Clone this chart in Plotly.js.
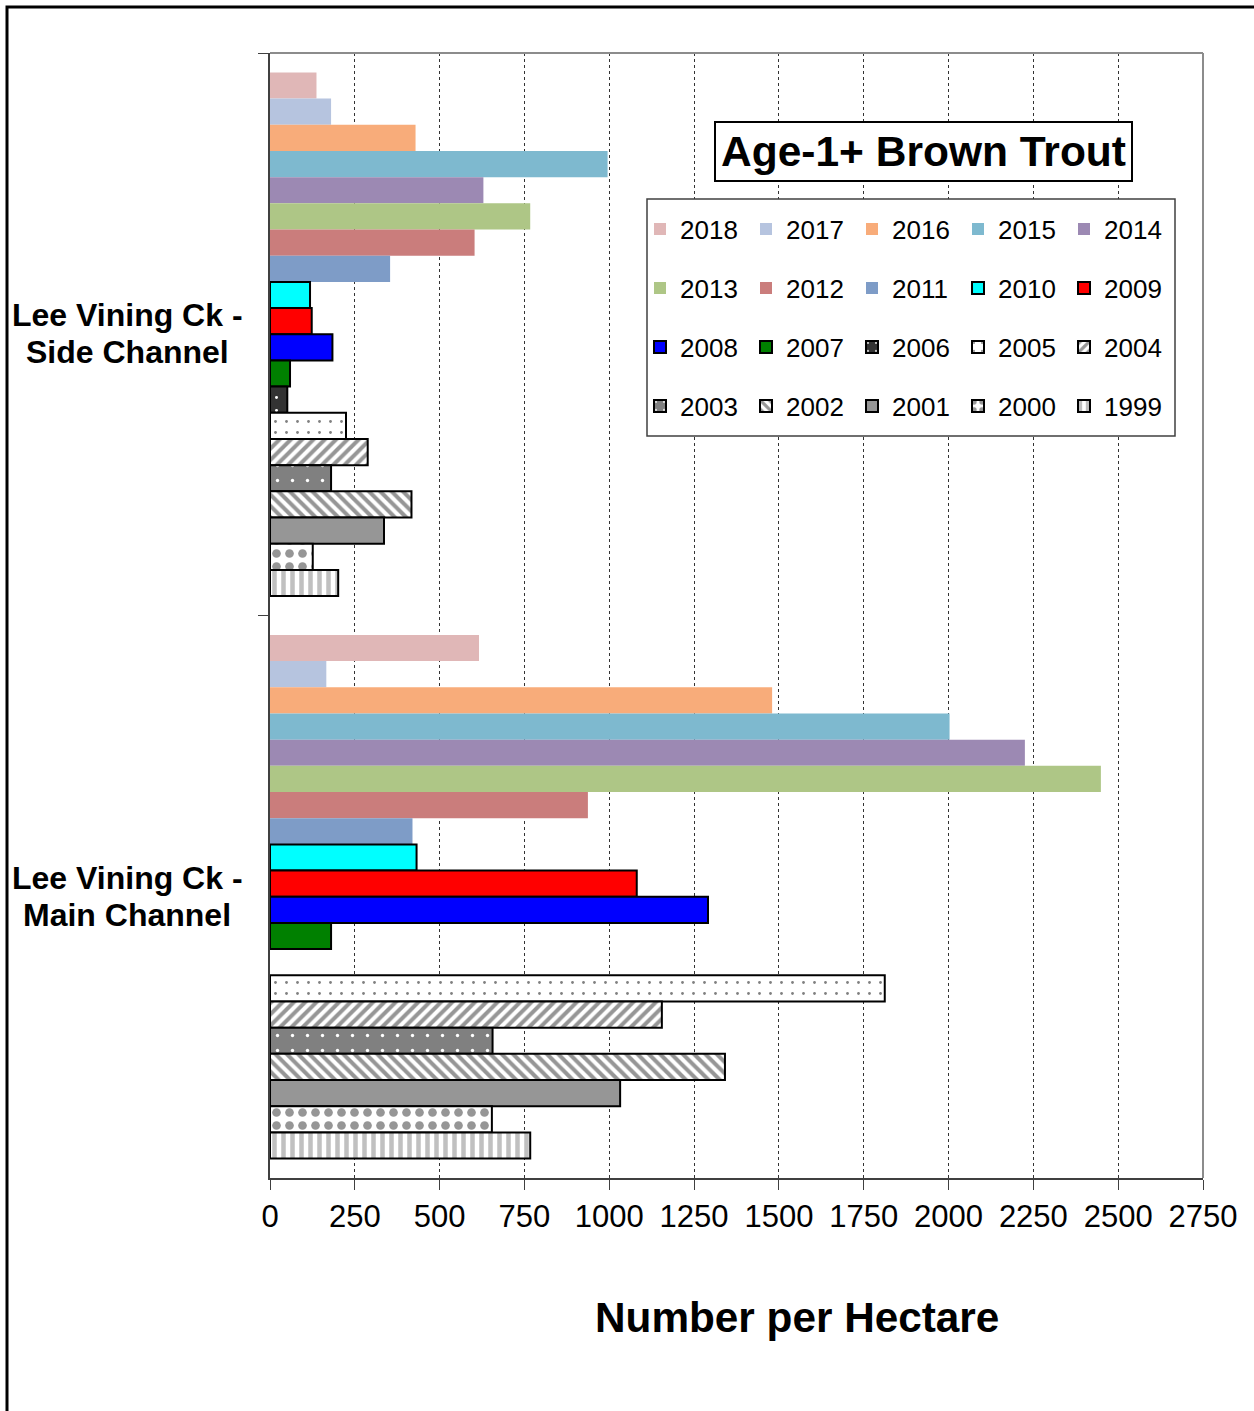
<!DOCTYPE html>
<html>
<head>
<meta charset="utf-8">
<script src="https://cdn.plot.ly/plotly-3.0.1.min.js"></script>
<style>html,body{margin:0;padding:0;background:#fff;}#chart{width:1254px;height:1411px;}</style>
</head>
<body>
<div id="chart"></div>
<script>
// ---- Data ----
const categories = ["Lee Vining Ck - Side Channel", "Lee Vining Ck - Main Channel"];
const categoryLabelLines = [["Lee Vining Ck -", "Side Channel"], ["Lee Vining Ck -", "Main Channel"]];
const years = ["2018","2017","2016","2015","2014","2013","2012","2011","2010","2009",
               "2008","2007","2006","2005","2004","2003","2002","2001","2000","1999"];
// values per year: [Side Channel, Main Channel]
const sideChannel = [137, 180, 429, 995, 629, 767, 603, 354, 118, 123,
                     184, 59, 51, 224, 288, 180, 417, 336, 126, 201];
const mainChannel = [616, 166, 1480, 2003, 2225, 2449, 937, 420, 432, 1081,
                     1291, 180, null, 1812, 1155, 656, 1341, 1032, 654, 767];
const xTickVals = [0,250,500,750,1000,1250,1500,1750,2000,2250,2500,2750];
const chartTitle = "Age-1+ Brown Trout";
const xTitle = "Number per Hectare";

// ---- Styles ----
const styles = {
  "2018": {color:"#e0b7b7"}, "2017": {color:"#b6c4df"}, "2016": {color:"#f8ac7a"},
  "2015": {color:"#7eb9cf"}, "2014": {color:"#9c89b3"}, "2013": {color:"#aec686"},
  "2012": {color:"#ca7d7c"}, "2011": {color:"#7e9cc7"},
  "2010": {color:"#00ffff", border:true}, "2009": {color:"#ff0000", border:true},
  "2008": {color:"#0000ff", border:true}, "2007": {color:"#008000", border:true},
  "2006": {color:"#333333", border:true, pattern:{shape:".", fgcolor:"#ffffff", bgcolor:"#333333", size:13, solidity:0.04, fillmode:"replace"}},
  "2005": {color:"#ffffff", border:true, pattern:{shape:".", fgcolor:"#808080", bgcolor:"#ffffff", size:11, solidity:0.05, fillmode:"replace"}},
  "2004": {color:"#ffffff", border:true, pattern:{shape:"/", fgcolor:"#969696", bgcolor:"#ffffff", size:8, solidity:0.5, fillmode:"replace"}},
  "2003": {color:"#808080", border:true, pattern:{shape:".", fgcolor:"#ffffff", bgcolor:"#808080", size:15, solidity:0.04, fillmode:"replace"}},
  "2002": {color:"#ffffff", border:true, pattern:{shape:"\\", fgcolor:"#969696", bgcolor:"#ffffff", size:8, solidity:0.5, fillmode:"replace"}},
  "2001": {color:"#969696", border:true},
  "2000": {color:"#ffffff", border:true, pattern:{shape:".", fgcolor:"#969696", bgcolor:"#ffffff", size:13, solidity:0.35, fillmode:"replace"}},
  "1999": {color:"#ffffff", border:true, pattern:{shape:"|", fgcolor:"#c0c0c0", bgcolor:"#ffffff", size:9, solidity:0.5, fillmode:"replace"}}
};

const W = 1254, H = 1411;
const M = {l:270, r:51, t:53, b:233};
const PW = W - M.l - M.r, PH = H - M.t - M.b;
const px = x => (x - M.l) / PW;
const py = y => 1 - (y - M.t) / PH;

const legendNames = ["legend","legend2","legend3","legend4"];
const traces = years.map((yr, i) => {
  const s = styles[yr];
  const marker = {color: s.color, line: {color: s.border ? "#000000" : "rgba(0,0,0,0)", width: s.border ? 2 : 0}};
  if (s.pattern) marker.pattern = s.pattern;
  return {
    type: "bar", orientation: "h", name: yr,
    y: categories, x: [sideChannel[i], mainChannel[i]],
    marker: marker,
    legend: legendNames[Math.floor(i / 5)],
    hoverinfo: "skip"
  };
});

const FONT = "Liberation Sans, Arial, Helvetica, sans-serif";
const rowY = [229, 288, 347, 406];
const legendBase = {
  orientation: "h", xanchor: "left", yanchor: "middle",
  bgcolor: "rgba(0,0,0,0)", borderwidth: 0,
  font: {family: FONT, size: 26, color: "#000"},
  entrywidth: 61, entrywidthmode: "pixels", itemwidth: 30,
  traceorder: "normal", tracegroupgap: 0
};
const legends = {};
legendNames.forEach((n, k) => {
  legends[n] = Object.assign({}, legendBase, {x: px(640), y: py(rowY[k])});
});

const annotations = [];
categories.forEach((c, i) => {
  categoryLabelLines[i].forEach((line, j) => {
    annotations.push({
      xref: "paper", yref: "y", x: px(127), y: c, text: "<b>" + line + "</b>",
      yshift: j === 0 ? 19 : -18,
      showarrow: false, xanchor: "center", yanchor: "middle", align: "center",
      font: {family: FONT, size: 32, color: "#000"}
    });
  });
});
annotations.push({
  xref: "paper", yref: "paper", x: px(923), y: py(151.5), text: "<b>" + chartTitle + "</b>",
  showarrow: false, xanchor: "center", yanchor: "middle",
  font: {family: FONT, size: 42.5, color: "#000"},
  bordercolor: "#000", borderwidth: 2, borderpad: 5, bgcolor: "#ffffff"
});
annotations.push({
  xref: "paper", yref: "paper", x: px(797), y: py(1317), text: "<b>" + xTitle + "</b>",
  showarrow: false, xanchor: "center", yanchor: "middle",
  font: {family: FONT, size: 42.3, color: "#000"}
});

const layout = Object.assign({
  width: W, height: H,
  margin: M,
  paper_bgcolor: "#ffffff", plot_bgcolor: "#ffffff",
  font: {family: FONT, color: "#000"},
  barmode: "group", bargap: 0.069, bargroupgap: 0,
  showlegend: true,
  xaxis: {
    range: [0, 2750], tickmode: "array", tickvals: xTickVals,
    showgrid: true, griddash: "dot", gridcolor: "#333", gridwidth: 1,
    zeroline: false, showline: true, linecolor: "#404040", linewidth: 2,
    ticks: "outside", ticklen: 10, tickcolor: "#404040", tickwidth: 1,
    tickfont: {family: FONT, size: 31, color: "#000"}
  },
  yaxis: {
    type: "category", categoryorder: "array", categoryarray: categories,
    autorange: "reversed", showgrid: false, zeroline: false,
    showline: true, linecolor: "#404040", linewidth: 2,
    ticks: "outside", tickson: "boundaries", ticklen: 10, tickcolor: "#404040",
    showticklabels: false
  },
  annotations: annotations,
  shapes: [
    {type: "line", xref: "paper", yref: "paper", x0: 0, x1: 1, y0: 1, y1: 1, line: {color: "#8c8c8c", width: 2}},
    {type: "line", xref: "paper", yref: "paper", x0: 1, x1: 1, y0: 0, y1: 1, line: {color: "#8c8c8c", width: 2}},
    {type: "rect", xref: "paper", yref: "paper", x0: px(647), x1: px(1175), y0: py(436), y1: py(199),
     line: {color: "#404040", width: 1.5}, fillcolor: "#ffffff", layer: "above"},
    {type: "rect", xref: "paper", yref: "paper", x0: px(7), x1: px(1300), y0: py(1460), y1: py(7),
     line: {color: "#000", width: 3}, fillcolor: "rgba(0,0,0,0)"}
  ]
}, legends);

Plotly.newPlot("chart", traces, layout, {displayModeBar: false, staticPlot: true});
</script>
</body>
</html>
